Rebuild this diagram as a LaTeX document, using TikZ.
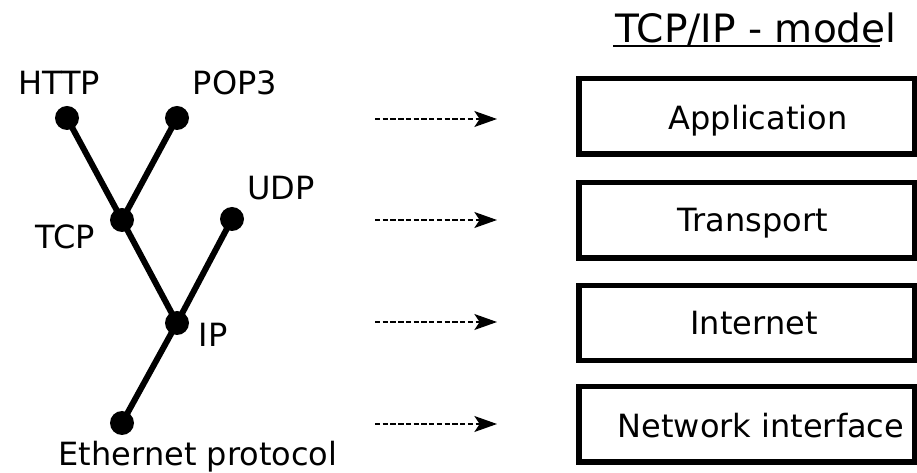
\documentclass[tikz,border=0pt]{standalone}
\usepackage{fontspec}
\setmainfont{DejaVu Sans}
\usetikzlibrary{arrows.meta}
\begin{document}
\begin{tikzpicture}[x=0.75pt,y=-0.75pt,
  dot/.style={circle,fill=black,inner sep=0pt,minimum size=18pt},
  edge/.style={line width=4.5pt},
  lbl/.style={inner sep=0pt,anchor=base,font=\fontsize{24pt}{28pt}\selectfont},
  layerbox/.style={draw,line width=4.1pt,minimum width=251.6pt,minimum height=56.6pt,inner sep=0pt},
  maparrow/.style={line width=1.1pt,dash pattern=on 4pt off 1.8pt,-{Stealth[length=17pt,width=12pt,inset=4pt]}}]
\useasboundingbox (0,0) rectangle (917,473);
% tree
\node[dot] (http) at (67,118) {};
\node[dot] (pop) at (177,118) {};
\node[dot] (tcp) at (122,220) {};
\node[dot] (udp) at (232,219) {};
\node[dot] (ip) at (177,323) {};
\node[dot] (eth) at (122,423) {};
\draw[edge] (http.center) -- (tcp.center) -- (pop.center);
\draw[edge] (tcp.center) -- (ip.center) -- (udp.center);
\draw[edge] (ip.center) -- (eth.center);
\node[lbl] (httpl) at (59,95) {HTTP};
\node[lbl] (popl) at (235,95) {POP3};
\node[lbl] (udpl) at (281,200) {UDP};
\node[lbl] (tcpl) at (65,249) {TCP};
\node[lbl] (ipl) at (213,347) {IP};
\node[lbl] (ethl) at (198,465) {Ethernet protocol};
% title
\node[lbl,font=\fontsize{29.3pt}{34pt}\selectfont] (title) at (756,43) {TCP/IP - model};
\coordinate (ul1) at (613,46);
\coordinate (ul2) at (880,46);
\draw[line width=1.2pt] (ul1) -- (ul2);
% boxes
\node[layerbox] (app) at (746.5,116.5) {};
\node[layerbox] (trans) at (746.5,220.5) {};
\node[layerbox] (inet) at (746.5,323) {};
\node[layerbox] (net) at (746.5,424.5) {};
\node[lbl] (appl) at (758,130) {Application};
\node[lbl] (transl) at (753,232) {Transport};
\node[lbl] (inetl) at (754,335) {Internet};
\node[lbl] (netl) at (761,438) {Network interface};
% arrows
\coordinate (a1s) at (375,119); \coordinate (a1e) at (497,119);
\coordinate (a2s) at (375,220); \coordinate (a2e) at (497,220);
\coordinate (a3s) at (375,322); \coordinate (a3e) at (497,322);
\coordinate (a4s) at (375,424); \coordinate (a4e) at (497,424);
\draw[maparrow] (a1s) -- (a1e);
\draw[maparrow] (a2s) -- (a2e);
\draw[maparrow] (a3s) -- (a3e);
\draw[maparrow] (a4s) -- (a4e);
\end{tikzpicture}
\end{document}
